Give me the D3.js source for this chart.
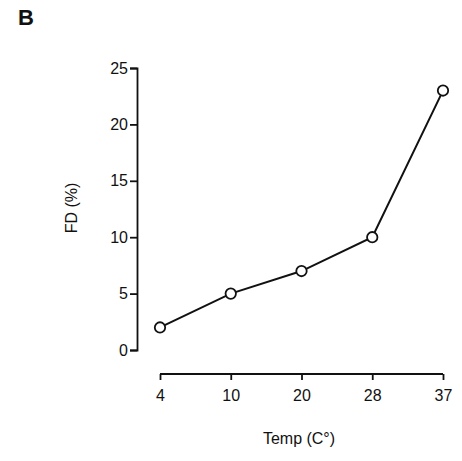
<!DOCTYPE html>
<html>
<head>
<meta charset="utf-8">
<script src="https://cdn.jsdelivr.net/npm/d3@7"></script>
<style>
  body { margin: 0; background: #fff; }
  text { font-family: "Liberation Sans", Arial, sans-serif; fill: #111; }
</style>
</head>
<body>
<svg id="chart" width="462" height="461"></svg>
<script>
// values
const temps = ["4", "10", "20", "28", "37"];
const fd = [2, 5, 7, 10, 23];
const yTicks = [0, 5, 10, 15, 20, 25];

const svg = d3.select("#chart");

// x is categorical, evenly spaced
var x = d3.scalePoint().domain(temps).range([160, 443]);
var y = d3.scaleLinear().domain([0, 25]).range([350, 68]);

// panel letter
svg.append("text")
  .attr("x", 18).attr("y", 25)
  .style("font-size", "22px")
  .style("font-weight", "bold")
  .text("B");

// y axis
var yAxis = svg.append("g")
  .attr("transform", "translate(137,0)")
  .call(d3.axisLeft(y).tickValues(yTicks).tickSize(7).tickPadding(2));
yAxis.select(".domain").attr("stroke", "#111").attr("stroke-width", 1.8);
yAxis.selectAll(".tick line").attr("stroke", "#111").attr("stroke-width", 1.8);
yAxis.selectAll(".tick text").style("font-size", "16px").attr("fill", "#111");

// x axis, offset below the plot
var xAxis = svg.append("g")
  .attr("transform", "translate(0,374)")
  .call(d3.axisBottom(x).tickSize(6).tickSizeOuter(0).tickPadding(10));
xAxis.select(".domain")
  .attr("d", "M" + x(temps[0]) + ",0H" + x(temps[temps.length - 1]))
  .attr("stroke", "#111").attr("stroke-width", 1.8);
xAxis.selectAll(".tick line").attr("stroke", "#111").attr("stroke-width", 1.8);
xAxis.selectAll(".tick text").style("font-size", "16px").attr("fill", "#111");

// axis titles
svg.append("text")
  .attr("transform", "translate(77,208) rotate(-90)")
  .attr("text-anchor", "middle")
  .style("font-size", "16px")
  .text("FD (%)");

svg.append("text")
  .attr("x", 299).attr("y", 444)
  .attr("text-anchor", "middle")
  .style("font-size", "16px")
  .text("Temp (C°)");

// line + open circles
var line = d3.line()
  .x(function(d, i) { return x(temps[i]); })
  .y(function(d) { return y(d); });

svg.append("path")
  .datum(fd)
  .attr("d", line)
  .attr("fill", "none")
  .attr("stroke", "#111")
  .attr("stroke-width", 2);

svg.selectAll("circle.pt")
  .data(fd)
  .enter()
  .append("circle")
  .attr("class", "pt")
  .attr("cx", function(d, i) { return x(temps[i]); })
  .attr("cy", function(d) { return y(d); })
  .attr("r", 5.2)
  .attr("fill", "#fff")
  .attr("stroke", "#111")
  .attr("stroke-width", 1.8);
</script>
</body>
</html>
